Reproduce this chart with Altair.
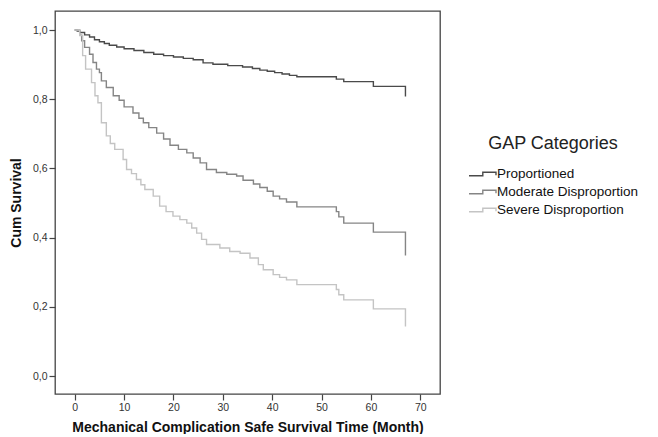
import altair as alt
import pandas as pd

categories = ["Proportioned", "Moderate Disproportion", "Severe Disproportion"]
colors = ["#4a4a4a", "#858585", "#c4c4c4"]

prop_t = [0, 0.5, 1, 2, 3, 4, 5, 6, 7, 8.5, 10, 12, 14, 16, 18, 20, 22, 24, 26, 28, 31, 34, 36, 37.5, 39, 40.5, 42, 43.5, 45, 53, 54.5, 60.5, 67]
prop_v = [1.0, 0.997, 0.993, 0.986, 0.98, 0.972, 0.966, 0.961, 0.956, 0.951, 0.946, 0.941, 0.935, 0.93, 0.926, 0.922, 0.918, 0.914, 0.905, 0.901, 0.897, 0.893, 0.889, 0.884, 0.881, 0.877, 0.873, 0.869, 0.865, 0.858, 0.851, 0.837, 0.808]

mod_t = [0, 1, 1.4, 2, 3, 3.7, 4.4, 5, 5.4, 6.4, 7.8, 9, 10, 11.8, 13, 13.9, 15, 16.6, 18, 19.3, 21, 22.7, 24, 25.4, 26.7, 28.7, 30.8, 32.8, 34.1, 36.2, 37.5, 39, 40.2, 41.5, 42.9, 45, 53, 53.5, 54.5, 60.5, 67]
mod_v = [1.0, 0.985, 0.969, 0.95, 0.93, 0.906, 0.887, 0.877, 0.853, 0.834, 0.81, 0.797, 0.778, 0.76, 0.745, 0.732, 0.718, 0.702, 0.685, 0.667, 0.655, 0.645, 0.63, 0.616, 0.597, 0.588, 0.583, 0.578, 0.566, 0.555, 0.545, 0.534, 0.52, 0.512, 0.503, 0.489, 0.475, 0.46, 0.442, 0.416, 0.348]

sev_t = [0, 1, 1.6, 2.2, 3.4, 4.1, 4.7, 5.4, 6.4, 7.2, 8.1, 9.8, 10.5, 11.5, 12.5, 13.4, 14.2, 15.9, 17.2, 18.5, 19.9, 21.3, 22.7, 23.7, 24.7, 25.7, 26.7, 29.4, 31.4, 33.5, 35.5, 37.2, 38.2, 40.2, 41.5, 42.9, 45, 53, 53.5, 54.5, 60.5, 67]
sev_v = [1.0, 0.984, 0.926, 0.887, 0.848, 0.81, 0.79, 0.732, 0.694, 0.672, 0.655, 0.626, 0.597, 0.585, 0.568, 0.553, 0.539, 0.52, 0.491, 0.475, 0.462, 0.452, 0.442, 0.428, 0.413, 0.395, 0.38, 0.37, 0.36, 0.355, 0.341, 0.322, 0.307, 0.293, 0.285, 0.278, 0.264, 0.25, 0.235, 0.22, 0.194, 0.143]

y_ticks = [0.0, 0.2, 0.4, 0.6, 0.8, 1.0]
x_ticks = [0, 10, 20, 30, 40, 50, 60, 70]

rows = []
for cat, ts, vs in [(categories[0], prop_t, prop_v), (categories[1], mod_t, mod_v), (categories[2], sev_t, sev_v)]:
    for i, (t, v) in enumerate(zip(ts, vs)):
        rows.append({"time": t, "surv": v, "group": cat, "order": i})
df = pd.DataFrame(rows)

# step glyph: wider than the symbol box (extends to x=3.5 on the right)
step_symbol = "M-1,0.3 L1.3,0.3 L1.3,-0.3 L3.5,-0.3 L3.5,0.2"

chart = alt.Chart(df).mark_line(interpolate="step-after", strokeWidth=1.4).encode(
    x=alt.X("time:Q", scale=alt.Scale(domain=[-4, 74], nice=False, zero=False),
            axis=alt.Axis(values=x_ticks, title="Mechanical Complication Safe Survival Time (Month)",
                          grid=False, domain=False, tickSize=6, tickColor="#444", tickWidth=1.2,
                          labelFontSize=10.5, labelColor="#333", labelPadding=2,
                          titleFontSize=14, titleFontWeight="bold", titleColor="#111", titlePadding=8)),
    y=alt.Y("surv:Q", scale=alt.Scale(domain=[-0.052, 1.055], nice=False, zero=False),
            axis=alt.Axis(values=y_ticks, format=".1f", labelExpr="replace(datum.label, '.', ',')",
                          title="Cum Survival", grid=False, domain=False, tickSize=6, tickColor="#444",
                          tickWidth=1.2, labelFontSize=10.5, labelColor="#333", labelPadding=2,
                          titleFontSize=14, titleFontWeight="bold", titleColor="#111", titlePadding=9)),
    color=alt.Color("group:N", scale=alt.Scale(domain=categories, range=colors),
                    legend=alt.Legend(title="GAP Categories", orient="none", legendX=413, legendY=124,
                                      titleFontSize=18, titleFontWeight="normal", titleColor="#222",
                                      titleAnchor="middle", titlePadding=14,
                                      labelFontSize=13.5, labelColor="#111", labelOffset=15,
                                      labelLimit=300,
                                      symbolType=step_symbol, symbolSize=144, symbolStrokeWidth=1.4,
                                      symbolFillColor="transparent", rowPadding=4)),
    order="order:Q",
).properties(
    width=385, height=383,
    autosize=alt.AutoSizeParams(type="none"),
    padding={"left": 47, "top": 3, "right": 208, "bottom": 40},
).configure(
    font="Liberation Sans"
).configure_view(
    stroke="#444", strokeWidth=1.3
)

chart.save("out.html", embed_options={"renderer": "svg", "actions": False})
